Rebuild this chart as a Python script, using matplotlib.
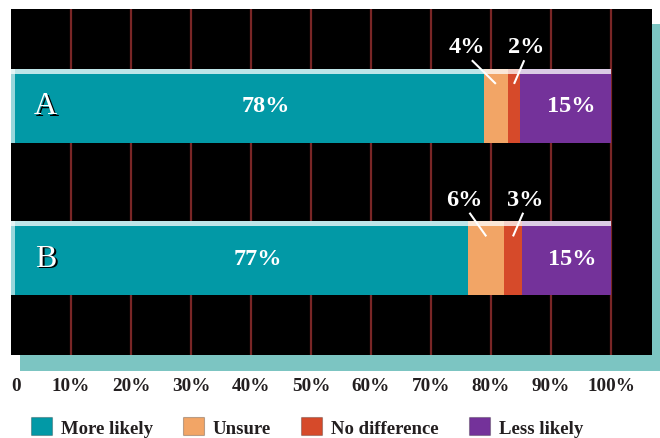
import matplotlib
matplotlib.use("Agg")
import matplotlib.pyplot as plt
from matplotlib.patches import Rectangle, Patch
import numpy as np

# ---- data ----
groups = ["A", "B"]
series = ["More likely", "Unsure", "No difference", "Less likely"]
more_likely = [78, 77]
unsure = [4, 6]
no_difference = [2, 3]
less_likely = [15, 15]
tick_values = [0, 10, 20, 30, 40, 50, 60, 70, 80, 90, 100]
tick_labels = ["0", "10%", "20%", "30%", "40%", "50%", "60%", "70%", "80%", "90%", "100%"]

colors = ["#0299a6", "#f2a566", "#d64a2a", "#74329a"]
grid_color = "#7a2626"
shadow_color = "#7cc5c2"
serif = ["Liberation Serif", "DejaVu Serif"]

W, H = 660, 439
fig = plt.figure(figsize=(W / 100, H / 100), dpi=100)
fig.patch.set_facecolor("white")

# shadow behind the black panel
fig.patches.append(Rectangle((20 / W, (H - 372) / H), (W - 20) / W, 16 / H,
                             transform=fig.transFigure, facecolor=shadow_color,
                             edgecolor="none", zorder=0))
fig.patches.append(Rectangle((652 / W, (H - 372) / H), 8 / W, 347 / H,
                             transform=fig.transFigure, facecolor=shadow_color,
                             edgecolor="none", zorder=0))

ax = fig.add_axes([11 / W, (H - 356) / H, 641 / W, 346 / H])
ax.set_facecolor("black")
ax.set_xlim(0, 641 / 6)
ax.set_ylim(1.633, -0.636)
for s in ax.spines.values():
    s.set_visible(False)

ax.vlines(tick_values[1:], -1, 2, color=grid_color, lw=1.6, zorder=1)

ypos = np.arange(len(groups))
bar_h = 0.485
data = np.array([more_likely, unsure, no_difference, less_likely], dtype=float)
totals = data.sum(axis=0)
widths = data / totals * 100
lefts = np.vstack([np.zeros(len(groups)), np.cumsum(widths, axis=0)[:-1]])

for i in range(len(series)):
    ax.barh(ypos, widths[i], left=lefts[i], height=bar_h, color=colors[i],
            edgecolor="none", zorder=2, label=series[i])

# highlight along the top edge of each bar
ax.barh(ypos - bar_h / 2 + 0.016, 100, height=0.032, left=0, color="white",
        alpha=0.75, edgecolor="none", zorder=3)
ax.barh(ypos, 0.6, left=0, height=bar_h, color="white", alpha=0.6,
        edgecolor="none", zorder=3)

label_kw = dict(color="white", fontsize=17.5, fontweight="bold", family=serif,
                ha="center", va="center", zorder=5)
shadow_tr = ax.transData + matplotlib.transforms.ScaledTranslation(
    1.5 / 100, -1.5 / 100, fig.dpi_scale_trans)
for j, g in enumerate(groups):
    # group letter with a dark shadow
    ax.text(5.8, ypos[j], g, color="black", fontsize=23, family=serif,
            ha="center", va="center", zorder=4, transform=shadow_tr)
    ax.text(5.8, ypos[j], g, color="white", fontsize=23, family=serif,
            ha="center", va="center", zorder=5)
    # big segments
    c0 = lefts[0, j] + widths[0, j] / 2 + 3
    ax.text(c0, ypos[j], f"{int(data[0, j])}%", **label_kw)
    c3 = lefts[3, j] + widths[3, j] / 2 + 1
    ax.text(c3, ypos[j], f"{int(data[3, j])}%", **label_kw)
    # small segments with leader lines
    for i, dx in ((1, -4.8 if j == 0 else -3.6), (2, 2.0)):
        cx = lefts[i, j] + widths[i, j] / 2
        lx = cx + dx
        ly = ypos[j] - 0.39
        ax.text(lx, ly, f"{int(data[i, j])}%", **label_kw)
        ax.plot([lx + (0.8 if dx < 0 else -0.3), cx], [ly + 0.09, ypos[j] - 0.145],
                color="white", lw=1.5, zorder=5, solid_capstyle="butt")

ax.set_xticks(tick_values)
ax.set_xticklabels(tick_labels)
ax.tick_params(axis="x", length=0, pad=16)
ax.set_yticks([])
for lab in ax.get_xticklabels():
    lab.set_family(serif)
    lab.set_fontweight("bold")
    lab.set_fontsize(13.8)
    lab.set_color("#231f20")
ax.get_xticklabels()[0].set_x(1.5)
ax.get_xticklabels()[0].set_ha("left")

handles = [Patch(facecolor=c, edgecolor="#00000040", lw=0.8) for c in colors]
fig.legend(handles, series, loc="center left",
           bbox_to_anchor=(31 / W, (H - 428) / H), ncol=4, frameon=False,
           prop=dict(family=serif, weight="bold", size=13.5),
           handlelength=1.1, handleheight=1.1, handletextpad=0.5,
           columnspacing=1.6, borderpad=0, borderaxespad=0,
           labelcolor="#231f20")

fig.savefig("out.png", dpi=100, facecolor="white")
